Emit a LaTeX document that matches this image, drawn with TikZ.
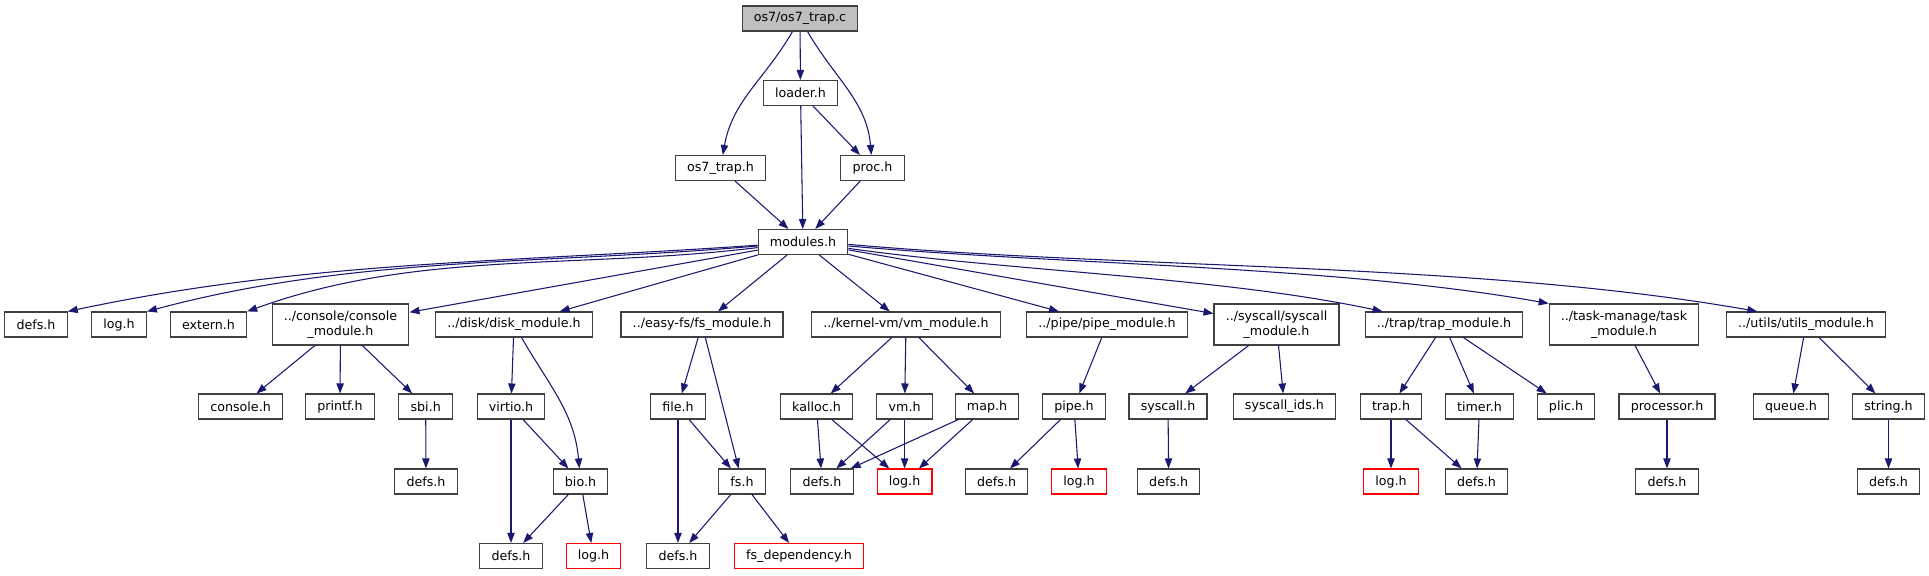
\documentclass[tikz,border=0pt]{standalone}
\usepackage{fontspec}
\setmainfont{DejaVu Sans}
\usetikzlibrary{arrows.meta}
\definecolor{edgeblue}{HTML}{191970}
\tikzset{
  box/.style={draw=#1, line width=0.8pt, fill=white, align=center,
              font=\fontsize{9.5}{11.5}\selectfont,
              minimum height=18.75pt, inner xsep=8.8pt, inner ysep=2pt},
  box/.default=black!75,
  box2/.style={box, minimum height=30.75pt},
  arr/.style={-{Triangle[length=7.5pt,width=5.5pt]}, edgeblue, line width=0.8pt}}

\begin{document}
\begin{tikzpicture}[x=0.75pt, y=-0.75pt]
  \useasboundingbox (0,0) rectangle (1929,575);
  % top part
  \node[box, fill=gray!50] (top) at (800,18.5) {os7/os7\_trap.c};
  \node[box] (loader) at (800.5,93) {loader.h};
  \node[box] (trapH) at (720.5,168) {os7\_trap.h};
  \node[box] (proc) at (872.5,168) {proc.h};
  \node[box] (mods) at (803,242) {modules.h};
  % module headers
  \node[box] (defsA) at (36,324.5) {defs.h};
  \node[box] (logA) at (119,324.5) {log.h};
  \node[box] (extern) at (208.5,324.5) {extern.h};
  \node[box2] (conmod) at (340.5,324.5) {../console/console\\\_module.h};
  \node[box] (diskmod) at (514,324.5) {../disk/disk\_module.h};
  \node[box] (fsmod) at (702,324.5) {../easy-fs/fs\_module.h};
  \node[box] (vmmod) at (906,324.5) {../kernel-vm/vm\_module.h};
  \node[box] (pipemod) at (1107,324.5) {../pipe/pipe\_module.h};
  \node[box2] (sysmod) at (1276.5,324.5) {../syscall/syscall\\\_module.h};
  \node[box] (trapmod) at (1444,324.5) {../trap/trap\_module.h};
  \node[box2] (taskmod) at (1624,324.5) {../task-manage/task\\\_module.h};
  \node[box] (utilsmod) at (1806,324.5) {../utils/utils\_module.h};
  % third row
  \node[box] (console) at (240.6,406.5) {console.h};
  \node[box] (printf) at (340,406.5) {printf.h};
  \node[box] (sbi) at (425.7,406.5) {sbi.h};
  \node[box] (virtio) at (511,406.5) {virtio.h};
  \node[box] (file) at (678,406.5) {file.h};
  \node[box] (kalloc) at (816.5,406.5) {kalloc.h};
  \node[box] (vmh) at (904.6,406.5) {vm.h};
  \node[box] (map) at (987,406.5) {map.h};
  \node[box] (pipe) at (1074,406.5) {pipe.h};
  \node[box] (syscall) at (1168,406.5) {syscall.h};
  \node[box] (sysids) at (1284.4,406.5) {syscall\_ids.h};
  \node[box] (traph) at (1391,406.5) {trap.h};
  \node[box] (timer) at (1479.5,406.5) {timer.h};
  \node[box] (plic) at (1566,406.5) {plic.h};
  \node[box] (processor) at (1667,406.5) {processor.h};
  \node[box] (queue) at (1791,406.5) {queue.h};
  \node[box] (string) at (1888.5,406.5) {string.h};
  % fourth row
  \node[box] (defsB) at (426,481.5) {defs.h};
  \node[box] (bio) at (580.5,481.5) {bio.h};
  \node[box] (fs) at (742,481.5) {fs.h};
  \node[box] (defsE) at (822,481.5) {defs.h};
  \node[box=red] (logC) at (904.6,481.5) {log.h};
  \node[box] (defsF) at (996.6,481.5) {defs.h};
  \node[box=red] (logD) at (1079,481.5) {log.h};
  \node[box] (defsG) at (1168.7,481.5) {defs.h};
  \node[box=red] (logE) at (1391,481.5) {log.h};
  \node[box] (defsH) at (1476.5,481.5) {defs.h};
  \node[box] (defsI) at (1667,481.5) {defs.h};
  \node[box] (defsJ) at (1888.5,481.5) {defs.h};
  % bottom row
  \node[box] (defsC) at (511,556) {defs.h};
  \node[box=red] (logB) at (593.5,556) {log.h};
  \node[box] (defsD) at (678,556) {defs.h};
  \node[box=red] (fsdep) at (799,556) {fs\_dependency.h};

  \draw[arr] (top) to[out=240,in=80] (trapH);
  \draw[arr] (top) -- (loader);
  \draw[arr] (top) to[out=-60,in=95] (proc);
  \draw[arr] (loader) -- (mods);
  \draw[arr] (loader) -- (proc);
  \draw[arr] (trapH) -- (mods);
  \draw[arr] (proc) -- (mods);

  \draw[arr] (mods.184) to[out=184,in=12,looseness=0.9] (defsA.north east);
  \draw[arr] (mods.185) to[out=185,in=15,looseness=0.9] (logA.north east);
  \draw[arr] (mods.187) to[out=187,in=20,looseness=0.9] (extern.north east);
  \draw[arr] (mods) -- (conmod);
  \draw[arr] (mods) -- (diskmod);
  \draw[arr] (mods) -- (fsmod);
  \draw[arr] (mods) -- (vmmod);
  \draw[arr] (mods) -- (pipemod);
  \draw[arr] (mods) -- (sysmod);
  \draw[arr] (mods.-8) to[out=-8,in=168,looseness=0.8] (trapmod.168);
  \draw[arr] (mods.-5) to[out=-5,in=170,looseness=0.8] (taskmod.north west);
  \draw[arr] (mods.-3) to[out=-5,in=170,looseness=0.8] (utilsmod.165);

  \draw[arr] (conmod) -- (console);
  \draw[arr] (conmod) -- (printf);
  \draw[arr] (conmod) -- (sbi);
  \draw[arr] (sbi) -- (defsB);

  \draw[arr] (diskmod) -- (virtio);
  \draw[arr] (diskmod) to[out=-60,in=95] (bio);
  \draw[arr] (virtio) -- (defsC);
  \draw[arr] (virtio) -- (bio);
  \draw[arr] (bio) -- (defsC);
  \draw[arr] (bio) -- (logB);

  \draw[arr] (fsmod) -- (file);
  \draw[arr] (fsmod) -- (fs);
  \draw[arr] (file) -- (defsD);
  \draw[arr] (file) -- (fs);
  \draw[arr] (fs) -- (defsD);
  \draw[arr] (fs) -- (fsdep);

  \draw[arr] (vmmod) -- (kalloc);
  \draw[arr] (vmmod) -- (vmh);
  \draw[arr] (vmmod) -- (map);
  \draw[arr] (kalloc) -- (defsE);
  \draw[arr] (kalloc) -- (logC);
  \draw[arr] (vmh) -- (defsE);
  \draw[arr] (vmh) -- (logC);
  \draw[arr] (map) -- (defsE);
  \draw[arr] (map) -- (logC);

  \draw[arr] (pipemod) -- (pipe);
  \draw[arr] (pipe) -- (defsF);
  \draw[arr] (pipe) -- (logD);

  \draw[arr] (sysmod) -- (syscall);
  \draw[arr] (sysmod) -- (sysids);
  \draw[arr] (syscall) -- (defsG);

  \draw[arr] (trapmod) -- (traph);
  \draw[arr] (trapmod) -- (timer);
  \draw[arr] (trapmod) -- (plic);
  \draw[arr] (traph) -- (logE);
  \draw[arr] (traph) -- (defsH);
  \draw[arr] (timer) -- (defsH);

  \draw[arr] (taskmod) -- (processor);
  \draw[arr] (processor) -- (defsI);

  \draw[arr] (utilsmod) -- (queue);
  \draw[arr] (utilsmod) -- (string);
  \draw[arr] (string) -- (defsJ);
\end{tikzpicture}
\end{document}
